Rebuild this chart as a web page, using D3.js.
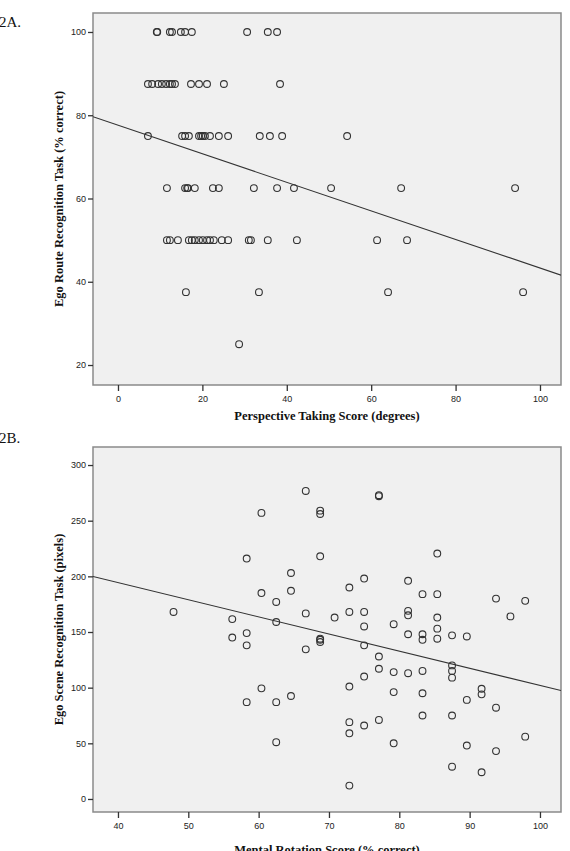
<!DOCTYPE html>
<html><head><meta charset="utf-8">
<script src="https://cdn.jsdelivr.net/npm/d3@7/dist/d3.min.js"></script>
<style>
body{margin:0;background:#fff;}
.tick text{font-family:"Liberation Sans",Arial,sans-serif;font-size:9px;fill:#222;}
.ttl{font-family:"Liberation Serif","Times New Roman",serif;font-weight:bold;font-size:12.5px;fill:#111;}
.lab{font-family:"Liberation Serif","Times New Roman",serif;font-size:15px;fill:#111;}
</style></head>
<body>
<svg id="c" width="570" height="851"></svg>
<script>
// ---------- Panel 2A data ----------
const aX = [9.2,9.3,12.3,12.8,14.9,15.9,17.5,30.6,35.5,37.7,
  7.1,8.1,9.5,10.4,11.4,12.3,12.8,13.5,17.3,19.2,21.1,25.1,38.4,
  7.1,15.2,15.9,16.8,19.2,19.7,20.1,20.6,21.8,23.9,26.1,33.6,36.0,38.9,54.3,
  11.6,15.9,16.4,16.6,18.2,22.5,23.9,32.2,37.7,41.7,50.5,67.1,94.1,
  11.6,12.3,14.2,16.8,17.5,18.2,19.2,20.1,21.1,21.8,22.7,24.6,26.1,31.0,31.5,35.5,42.4,61.4,68.5,
  16.1,33.4,64.0,96.0,
  28.7];
const aY = [100,100,100,100,100,100,100,100,100,100,
  87.5,87.5,87.5,87.5,87.5,87.5,87.5,87.5,87.5,87.5,87.5,87.5,87.5,
  75,75,75,75,75,75,75,75,75,75,75,75,75,75,75,
  62.5,62.5,62.5,62.5,62.5,62.5,62.5,62.5,62.5,62.5,62.5,62.5,62.5,
  50,50,50,50,50,50,50,50,50,50,50,50,50,50,50,50,50,50,50,
  37.5,37.5,37.5,37.5,
  25];
const aXTicks = [0,20,40,60,80,100];
const aYTicks = [20,40,60,80,100];
const aFit = [77.6, -0.343]; // intercept, slope

// ---------- Panel 2B data ----------
const bX = [47.9,56.25,56.25,58.3,58.3,58.3,58.3,60.4,60.4,60.4,62.5,62.5,62.5,62.5,64.6,64.6,64.6,
  66.7,66.7,66.7,68.75,68.75,68.75,68.75,68.75,68.75,70.8,
  72.9,72.9,72.9,72.9,72.9,72.9,
  75,75,75,75,75,75,
  77.1,77.1,77.1,77.1,77.1,
  79.2,79.2,79.2,79.2,
  81.25,81.25,81.25,81.25,81.25,
  83.3,83.3,83.3,83.3,83.3,83.3,
  85.4,85.4,85.4,85.4,85.4,
  87.5,87.5,87.5,87.5,87.5,87.5,
  89.6,89.6,89.6,
  91.7,91.7,91.7,
  93.75,93.75,93.75,
  95.8,
  97.9,97.9];
const bY = [168,161.6,145,216,149,138,87,257,185,99.4,177,159,87,51,203,187,92.5,
  276.7,166.7,134.4,256,259,218,144,141,143,163,
  190,168,101,69,59,12,
  198,168,155,138,110,66,
  272.9,272,128,117,71,
  157,114,96,50,
  196,169,165,148,113,
  184,148,143,115,95,75,
  220.5,184,163,153,144,
  147,120,115,109,75,29,
  146,89,48,
  99,94,24,
  180,82,43,
  164,
  178,56];
const bXTicks = [40,50,60,70,80,90,100];
const bYTicks = [0,50,100,150,200,250,300];
const bFit = [256, -1.54];

const svg = d3.select("#c");

function panel(opt){
  const g = svg.append("g");
  const x = d3.scaleLinear().domain(opt.xd).range([93,561]);
  const y = d3.scaleLinear().domain(opt.yd).range([opt.bottom, opt.top]);
  g.append("rect").attr("x",93).attr("y",opt.top).attr("width",468).attr("height",opt.bottom-opt.top)
    .attr("fill","#f0f0f0").attr("stroke","#8a8a8a").attr("stroke-width",1.5);
  const xa = g.append("g").attr("transform",`translate(0,${opt.bottom})`)
    .call(d3.axisBottom(x).tickValues(opt.xt).tickSize(6).tickSizeOuter(0).tickFormat(d3.format("d")));
  xa.select(".domain").remove();
  xa.selectAll(".tick line").attr("stroke","#333").attr("stroke-width",1.3);
  xa.selectAll(".tick text").attr("dy","0.9em");
  const ya = g.append("g").attr("transform","translate(93,0)")
    .call(d3.axisLeft(y).tickValues(opt.yt).tickSize(5).tickSizeOuter(0).tickFormat(d3.format("d")));
  ya.select(".domain").remove();
  ya.selectAll(".tick line").attr("stroke","#333").attr("stroke-width",1.3);
  ya.selectAll(".tick text").attr("dx","0.1em");
  // regression line
  const [x0,x1] = opt.xd;
  const clip = "clip"+opt.id;
  g.append("clipPath").attr("id",clip).append("rect").attr("x",93).attr("y",opt.top).attr("width",468).attr("height",opt.bottom-opt.top);
  g.append("line").attr("clip-path",`url(#${clip})`)
    .attr("x1",x(x0)).attr("y1",y(opt.fit[0]+opt.fit[1]*x0))
    .attr("x2",x(x1)).attr("y2",y(opt.fit[0]+opt.fit[1]*x1))
    .attr("stroke","#333").attr("stroke-width",1.1);
  g.selectAll("circle.pt").data(opt.xs.map((v,i)=>[v,opt.ys[i]])).join("circle")
    .attr("class","pt").attr("cx",d=>x(d[0])).attr("cy",d=>y(d[1])).attr("r",3.4)
    .attr("fill","none").attr("stroke","#333").attr("stroke-width",1.1);
  g.append("text").attr("class","ttl").attr("x",327).attr("y",opt.xTitleY).attr("text-anchor","middle").text(opt.xTitle);
  g.append("text").attr("class","ttl").attr("text-anchor","middle")
    .attr("transform",`translate(63,${(opt.top+opt.bottom)/2}) rotate(-90)`).text(opt.yTitle);
  g.append("text").attr("class","lab").attr("x",-1).attr("y",opt.labY).text(opt.label);
}

panel({id:"a",xd:[-5.92,104.98],yd:[15.2,104.56],top:13,bottom:385,xt:aXTicks,yt:aYTicks,
  xs:aX,ys:aY,fit:aFit,xTitle:"Perspective Taking Score (degrees)",yTitle:"Ego Route Recognition Task (% correct)",
  xTitleY:420,label:"2A.",labY:27});
panel({id:"b",xd:[36.45,102.99],yd:[-11.7,316.2],top:447,bottom:812,xt:bXTicks,yt:bYTicks,
  xs:bX,ys:bY,fit:bFit,xTitle:"Mental Rotation Score (% correct)",yTitle:"Ego Scene Recognition Task (pixels)",
  xTitleY:854,label:"2B.",labY:443});
</script>
</body></html>
